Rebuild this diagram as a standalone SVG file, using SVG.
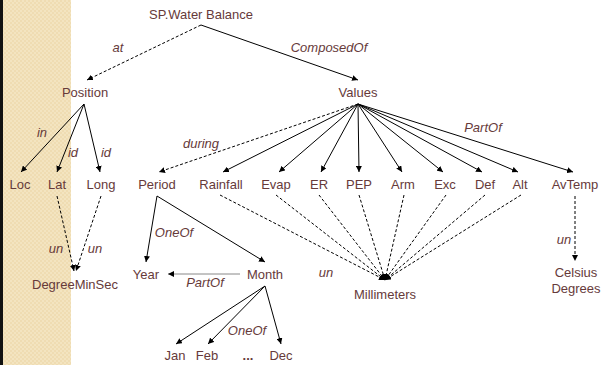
<svg xmlns="http://www.w3.org/2000/svg" width="602" height="365" viewBox="0 0 602 365">
  <defs>
    <pattern id="weave" width="4" height="4" patternUnits="userSpaceOnUse">
      <rect width="4" height="4" fill="#f3e4c0"/>
      <rect width="2" height="2" fill="#efdcb2"/>
      <rect x="2" y="2" width="2" height="2" fill="#efdcb2"/>
    </pattern>
    <marker id="arr" viewBox="0 0 10 10" refX="10" refY="5" markerWidth="6" markerHeight="6" markerUnits="userSpaceOnUse" orient="auto">
      <path d="M0,0 L10,5 L0,10 z" fill="#000"/>
    </marker>
  </defs>
  <style>
    text { font-family: "Liberation Sans", Arial, sans-serif; font-size: 13px; fill: #663a3a; text-anchor: middle; }
    .lbl { font-style: italic; }
    .dots { font-weight: bold; }
    .e { fill: none; stroke: #000; stroke-width: 1; marker-end: url(#arr); }
    .d { stroke-dasharray: 3 2; }
    .g { stroke: #888; }
  </style>

  <!-- side band -->
  <rect x="0" y="0" width="602" height="365" fill="#fff"/>
  <rect x="3" y="0" width="68" height="365" fill="url(#weave)"/>
  <rect x="0" y="0" width="3" height="365" fill="#111"/>

  <g id="connectors">
    <path class="e d" d="M201,25 L87,80"/>
    <path class="e" d="M201,25 L358,80"/>
    <path class="e" d="M84,104 L21,172"/>
    <path class="e" d="M84,104 L57,172"/>
    <path class="e" d="M84,104 L100,172"/>
    <path class="e d" d="M358,104 L159,172"/>
    <path class="e" d="M358,104 L223,172"/>
    <path class="e" d="M358,104 L279,172"/>
    <path class="e" d="M358,104 L321,172"/>
    <path class="e" d="M358,104 L359,172"/>
    <path class="e" d="M358,104 L402,172"/>
    <path class="e" d="M358,104 L443,172"/>
    <path class="e" d="M358,104 L482,172"/>
    <path class="e" d="M358,104 L518,172"/>
    <path class="e" d="M358,104 L573,172"/>
    <path class="e d" d="M57,196 L74,271"/>
    <path class="e d" d="M101,196 L76,271"/>
    <path class="e" d="M157,196 L146,262"/>
    <path class="e" d="M157,196 L265,262"/>
    <path class="e g" d="M240,274 L168,274"/>
    <path class="e" d="M265,286 L176,344"/>
    <path class="e" d="M265,286 L208,344"/>
    <path class="e" d="M265,286 L281,344"/>
    <path class="e d" d="M220,195 L385,280"/>
    <path class="e d" d="M276,195 L385,280"/>
    <path class="e d" d="M319,195 L385,280"/>
    <path class="e d" d="M359,195 L385,280"/>
    <path class="e d" d="M404,195 L385,280"/>
    <path class="e d" d="M446,195 L385,280"/>
    <path class="e d" d="M485,195 L385,280"/>
    <path class="e d" d="M521,195 L385,280"/>
    <path class="e d" d="M575,196 L575,261"/>
  </g>

  <g id="connector-labels">
    <text class="lbl" x="118" y="52">at</text>
    <text class="lbl" x="329" y="52">ComposedOf</text>
    <text class="lbl" x="42" y="137">in</text>
    <text class="lbl" x="73" y="157">id</text>
    <text class="lbl" x="106" y="157">id</text>
    <text class="lbl" x="201" y="148">during</text>
    <text class="lbl" x="483" y="132">PartOf</text>
    <text class="lbl" x="56" y="253">un</text>
    <text class="lbl" x="95" y="253">un</text>
    <text class="lbl" x="174" y="237">OneOf</text>
    <text class="lbl" x="205" y="287">PartOf</text>
    <text class="lbl" x="247" y="335">OneOf</text>
    <text class="lbl" x="326" y="277">un</text>
    <text class="lbl" x="564" y="244">un</text>
  </g>

  <g id="n-water-balance"><text x="201" y="19">SP.Water Balance</text></g>
  <g id="n-position"><text x="85" y="97">Position</text></g>
  <g id="n-values"><text x="358" y="97">Values</text></g>
  <g id="n-loc"><text x="20" y="189">Loc</text></g>
  <g id="n-lat"><text x="57" y="189">Lat</text></g>
  <g id="n-long"><text x="101" y="189">Long</text></g>
  <g id="n-period"><text x="157" y="189">Period</text></g>
  <g id="n-rainfall"><text x="221" y="189">Rainfall</text></g>
  <g id="n-evap"><text x="276" y="189">Evap</text></g>
  <g id="n-er"><text x="319" y="189">ER</text></g>
  <g id="n-pep"><text x="359" y="189">PEP</text></g>
  <g id="n-arm"><text x="403" y="189">Arm</text></g>
  <g id="n-exc"><text x="445" y="189">Exc</text></g>
  <g id="n-def"><text x="485" y="189">Def</text></g>
  <g id="n-alt"><text x="520" y="189">Alt</text></g>
  <g id="n-avtemp"><text x="575" y="189">AvTemp</text></g>
  <g id="n-degreeminsec"><text x="75" y="289">DegreeMinSec</text></g>
  <g id="n-year"><text x="146" y="279">Year</text></g>
  <g id="n-month"><text x="265" y="279">Month</text></g>
  <g id="n-millimeters"><text x="385" y="299">Millimeters</text></g>
  <g id="n-celsius"><text x="576" y="277">Celsius</text><text x="576" y="293">Degrees</text></g>
  <g id="n-jan"><text x="175" y="360">Jan</text></g>
  <g id="n-feb"><text x="207" y="360">Feb</text></g>
  <g id="n-ellipsis"><text class="dots" x="248" y="360">...</text></g>
  <g id="n-dec"><text x="281" y="360">Dec</text></g>
</svg>
